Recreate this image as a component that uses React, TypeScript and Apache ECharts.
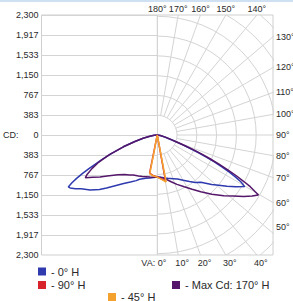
import React, { useEffect, useRef } from 'react';
import * as echarts from 'echarts';

// ---- scale ----
const CD_MAX = 2300;
const CD_STEP = CD_MAX / 6;
const X_MAX = (CD_MAX * 117) / 120;

// ---- grid geometry (polar overlay) ----
const RING_LEVELS = [1, 2, 3, 4, 5, 6, 7, 8, 9];
const SPOKE_ANGLES = [0, 10, 20, 30, 40, 50, 60, 70, 80, 90, 100, 110, 120, 130, 140, 150, 160, 170, 180];
const TOP_LABEL_ANGLES = [180, 170, 160, 150, 140];
const RIGHT_LABEL_ANGLES = [130, 120, 110, 100, 90, 80, 70, 60, 50];
const BOTTOM_LABEL_ANGLES = [0, 10, 20, 30, 40];

// ---- series names & colours ----
const NAME_0 = '0° H';
const NAME_90 = '90° H';
const NAME_MAX = 'Max Cd: 170° H';
const NAME_45 = '45° H';

const COLOR_0 = '#2e3aae';
const COLOR_90 = '#d9232b';
const COLOR_MAX = '#55176a';
const COLOR_45 = '#f4a22f';

// ---- data: vertical angle (deg, negative = left half) and candela ----
const H0_ANGLES = [-90, -85, -80, -77, -74, -71, -68, -66, -65, -64, -63, -62, -61, -60, -59, -57, -55, -51, -47, -44, -40, -35, -30, -25, -22, -15, -10, -5, 0, 5, 10, 14, 20, 25, 30, 35, 39, 43, 48, 51, 54, 57, 59.7, 61, 62, 63, 64, 65, 66, 67, 68, 69, 70, 72, 75, 80, 90];
const H0_CD = [0, 60, 160, 281, 450, 694, 980, 1200, 1330, 1480, 1630, 1770, 1890, 1990, 1970, 1890, 1800, 1672, 1530, 1414, 1270, 1135, 1040, 965, 915, 860, 835, 820, 805, 815, 835, 855, 890, 932, 1000, 1090, 1170, 1238, 1420, 1530, 1671, 1820, 1961, 1850, 1720, 1560, 1400, 1220, 1040, 860, 690, 540, 420, 260, 150, 60, 0];

const HMAX_ANGLES = [-90, -85, -80, -77, -74, -71, -68, -66, -65, -63, -61, -59.6, -57, -54, -51, -45, -40, -35, -31, -25, -20, -15, -10, -5, 0, 5, 9.6, 16.7, 22, 27.8, 33, 37.8, 43, 47.9, 51.5, 54.8, 57.5, 59.6, 61.2, 62, 63, 64, 65, 66, 67, 68, 69, 70, 72, 75, 80, 90];
const HMAX_CD = [0, 60, 165, 281, 450, 694, 990, 1180, 1270, 1420, 1550, 1616, 1490, 1370, 1250, 1080, 990, 935, 897, 865, 845, 826, 818, 812, 810, 820, 842, 935, 1020, 1121, 1240, 1376, 1550, 1737, 1880, 2049, 2180, 2273, 2056, 1900, 1720, 1520, 1320, 1120, 930, 750, 590, 460, 290, 160, 60, 0];

const H90_ANGLES = [-90, -15, -11.5, -6, 0, 6, 10.3, 15, 90];
const H90_CD = [0, 0, 745, 780, 805, 850, 895, 0, 0];

const H45_ANGLES = [-90, -16, -11, -6, 0, 5, 10.8, 16, 90];
const H45_CD = [0, 0, 760, 785, 808, 850, 917, 0, 0];

const GRID_COLOR = '#d4d4d4';
const TEXT_COLOR = '#2a2a2a';
const AXIS_FONT = '"Liberation Sans", Arial, sans-serif';
const NBSP = '\u00a0';

const rad = (a: number) => (a * Math.PI) / 180;
const toXY = (angles: number[], cds: number[]) =>
  angles.map((a, i) => [cds[i] * Math.sin(rad(a)), -cds[i] * Math.cos(rad(a))]);

const crisp = (v: number) => Math.round(v - 0.5) + 0.5;

const renderGrid = (_params: any, api: any) => {
  const children: any[] = [];
  const c = api.coord([0, 0]);
  const style = { stroke: GRID_COLOR, lineWidth: 1, fill: 'none' };
  for (let k = -6; k <= 6; k++) {
    const p = api.coord([-X_MAX, k * CD_STEP]);
    const y = crisp(p[1]);
    children.push({ type: 'line', shape: { x1: p[0], y1: y, x2: c[0], y2: y }, style });
  }
  const t = api.coord([0, CD_MAX]);
  const b = api.coord([0, -CD_MAX]);
  children.push({ type: 'line', shape: { x1: crisp(t[0]), y1: t[1], x2: crisp(b[0]), y2: b[1] }, style });
  RING_LEVELS.forEach((k) => {
    const r = api.size([k * CD_STEP, 0])[0];
    children.push({
      type: 'arc',
      shape: { cx: c[0], cy: c[1], r, startAngle: -Math.PI / 2, endAngle: Math.PI / 2, clockwise: true },
      style,
    });
  });
  const far = CD_STEP * 12;
  SPOKE_ANGLES.forEach((a) => {
    const s = Math.sin(rad(a));
    const co = Math.cos(rad(a));
    const p1 = api.coord([CD_STEP * s, -CD_STEP * co]);
    const p2 = api.coord([far * s, -far * co]);
    children.push({ type: 'line', shape: { x1: p1[0], y1: p1[1], x2: p2[0], y2: p2[1] }, style });
  });
  return { type: 'group', children };
};

const txt = (text: string, x: number, y: number, align: string) => ({
  type: 'text',
  x,
  y,
  style: {
    text,
    fill: TEXT_COLOR,
    font: `9px ${AXIS_FONT}`,
    align,
    verticalAlign: 'middle',
    textAlign: align,
    textVerticalAlign: 'middle',
  },
});

const renderLabels = (_params: any, api: any) => {
  const children: any[] = [];
  const bottomY = api.coord([0, -CD_MAX])[1];
  TOP_LABEL_ANGLES.forEach((a) => {
    const p = api.coord([CD_MAX * Math.tan(rad(180 - a)), CD_MAX]);
    children.push(txt(`${a}°`, p[0], p[1] - 6, 'center'));
  });
  RIGHT_LABEL_ANGLES.forEach((a) => {
    const yv = a === 90 ? 0 : -X_MAX / Math.tan(rad(a));
    const p = api.coord([X_MAX, yv]);
    children.push(txt(`${a}°`, p[0] + 3, Math.min(p[1], bottomY - 28), 'left'));
  });
  BOTTOM_LABEL_ANGLES.forEach((a) => {
    const p = api.coord([CD_MAX * Math.tan(rad(a)), -CD_MAX]);
    if (a === 0) children.push(txt(`VA: ${a}°`, p[0] + 9, p[1] + 8, 'right'));
    else children.push(txt(`${a}°`, p[0] + 4, p[1] + 8, 'center'));
  });
  return { type: 'group', children };
};

const lineSeries = (name: string, color: string, angles: number[], cds: number[]) => ({
  type: 'line',
  name,
  data: toXY(angles, cds),
  showSymbol: false,
  symbol: 'none',
  lineStyle: { width: 1.5, color },
  itemStyle: { color },
  z: 3,
});

const legendCommon = {
  icon: 'rect',
  itemWidth: 8,
  itemHeight: 8,
  padding: 0,
  itemGap: 0,
  selectedMode: false,
  formatter: '- {name}',
  textStyle: { fontSize: 11, fontFamily: AXIS_FONT, color: TEXT_COLOR },
};

export default function App() {
  const ref = useRef<HTMLDivElement>(null);
  useEffect(() => {
    if (!ref.current) return;
    const chart = echarts.init(ref.current, undefined, { renderer: 'svg' });
    chart.setOption({
      animation: false,
      backgroundColor: '#ffffff',
      graphic: [
        { type: 'rect', left: 0, top: 0, shape: { width: 293, height: 2 }, style: { fill: '#cfe0f2' } },
      ],
      grid: { left: 39, top: 15, width: 234, height: 240, show: true, borderColor: '#cfcfcf', borderWidth: 1 },
      xAxis: {
        type: 'value',
        min: -X_MAX,
        max: X_MAX,
        axisLine: { show: false },
        axisTick: { show: false },
        axisLabel: { show: false },
        splitLine: { show: false },
      },
      yAxis: {
        type: 'value',
        min: -CD_MAX,
        max: CD_MAX,
        interval: CD_STEP,
        axisLine: { show: false },
        axisTick: { show: false },
        splitLine: { show: false },
        axisLabel: {
          margin: 3,
          fontSize: 9,
          fontFamily: AXIS_FONT,
          color: TEXT_COLOR,
          formatter: (v: number) =>
            Math.abs(v) < 1
              ? `CD:${NBSP.repeat(6)}0`
              : Math.round(Math.abs(v)).toLocaleString('en-US'),
        },
      },
      legend: [
        { ...legendCommon, data: [NAME_0], left: 38, top: 266 },
        { ...legendCommon, data: [NAME_90], left: 38, top: 279.5 },
        { ...legendCommon, data: [NAME_MAX], left: 172, top: 279.5 },
        { ...legendCommon, data: [NAME_45], left: 108, top: 291.5 },
      ],
      series: [
        {
          type: 'custom',
          coordinateSystem: 'cartesian2d',
          data: [[0, 0]],
          renderItem: renderGrid,
          clip: true,
          silent: true,
          z: 1,
        },
        {
          type: 'custom',
          coordinateSystem: 'cartesian2d',
          data: [[0, 0]],
          renderItem: renderLabels,
          clip: false,
          silent: true,
          z: 2,
        },
        lineSeries(NAME_0, COLOR_0, H0_ANGLES, H0_CD),
        lineSeries(NAME_MAX, COLOR_MAX, HMAX_ANGLES, HMAX_CD),
        lineSeries(NAME_90, COLOR_90, H90_ANGLES, H90_CD),
        lineSeries(NAME_45, COLOR_45, H45_ANGLES, H45_CD),
      ],
    });
    return () => chart.dispose();
  }, []);
  return <div ref={ref} style={{ position: 'fixed', left: 0, top: 0, width: 293, height: 301 }} />;
}
